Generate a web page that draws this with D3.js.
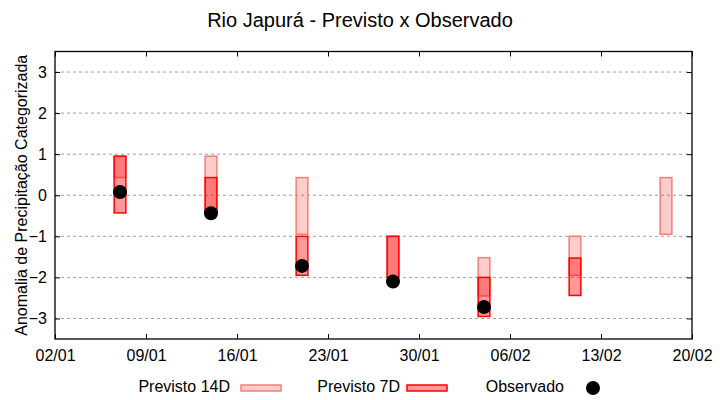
<!DOCTYPE html>
<html>
<head>
<meta charset="utf-8">
<script src="https://cdn.jsdelivr.net/npm/d3@7"></script>
<style>
	body { margin: 0; background: white; }
	text { font-family: "Liberation Sans", Arial, sans-serif; fill: #000; }
</style>
</head>
<body>
<script>
// datas de cada semana prevista
var dates = ['07/01', '14/01', '21/01', '28/01', '04/02', '11/02', '18/02']
var prev14Low  = [0.43, -0.45, -0.95, -2.0, -2.45, -1.95, -0.95]
var prev14High = [0.95, 0.95, 0.43, -1.0, -1.52, -1.0, 0.43]
var prev7Low   = [-0.43, -0.45, -1.95, -2.0, -2.95, -2.44, null]
var prev7High  = [0.95, 0.43, -1.0, -1.0, -2.0, -1.53, null]
var observado  = [0.08, -0.44, -1.72, -2.1, -2.72, null, null]

var xTicks = ['02/01', '09/01', '16/01', '23/01', '30/01', '06/02', '13/02', '20/02']
var yTicks = [-3, -2, -1, 0, 1, 2, 3]

var parse = s => new Date(Date.UTC(2024, +s.slice(3) - 1, +s.slice(0, 2)))
var DAY = 864e5

var width = 720,
	height = 400

var margin = {top: 51.5, right: 28, bottom: 61, left: 55}

var svg = d3.select('body').append('svg')
	.attr('width', width)
	.attr('height', height)

var x = d3.scaleUtc()
	.domain([parse('02/01'), parse('20/02')])
	.range([margin.left, width - margin.right])

var y = d3.scaleLinear()
	.domain([-3.5, 3.5])
	.range([height - margin.bottom, margin.top])

// grid
svg.append('g')
	.selectAll('line')
	.data(yTicks)
	.enter()
	.append('line')
		.attr('x1', margin.left)
		.attr('x2', width - margin.right)
		.attr('y1', d => y(d))
		.attr('y2', d => y(d))
		.attr('stroke', '#a0a0a0')
		.attr('stroke-width', 1)
		.attr('stroke-dasharray', '3,3')

// eixos (ticks para dentro, espelhados)
var tickFmt = d3.utcFormat('%d/%m')
var xTickVals = xTicks.map(parse)

svg.append('g')
	.attr('transform', 'translate(0,' + (height - margin.bottom) + ')')
	.call(d3.axisBottom(x).tickValues(xTickVals).tickFormat(tickFmt).tickSizeInner(-5).tickSizeOuter(0).tickPadding(11))
	.call(g => g.select('.domain').remove())
	.call(g => g.selectAll('text').style('font-size', '16px'))

svg.append('g')
	.attr('transform', 'translate(0,' + margin.top + ')')
	.call(d3.axisTop(x).tickValues(xTickVals).tickFormat('').tickSizeInner(-5).tickSizeOuter(0))
	.call(g => g.select('.domain').remove())

svg.append('g')
	.attr('transform', 'translate(' + margin.left + ',0)')
	.call(d3.axisLeft(y).tickValues(yTicks).tickFormat(d3.format('d')).tickSizeInner(-5).tickSizeOuter(0).tickPadding(8))
	.call(g => g.select('.domain').remove())
	.call(g => g.selectAll('text').style('font-size', '16px'))

svg.append('g')
	.attr('transform', 'translate(' + (width - margin.right) + ',0)')
	.call(d3.axisRight(y).tickValues(yTicks).tickFormat('').tickSizeInner(-5).tickSizeOuter(0))
	.call(g => g.select('.domain').remove())

svg.selectAll('.tick line').attr('stroke', '#000')

svg.append('rect')
	.attr('x', margin.left)
	.attr('y', margin.top)
	.attr('width', width - margin.left - margin.right)
	.attr('height', height - margin.top - margin.bottom)
	.attr('fill', 'none')
	.attr('stroke', '#000')
	.attr('stroke-width', 1.3)

// caixas
var boxW = x(new Date(DAY * 0.9)) - x(new Date(0))

var c14 = {fill: 'rgba(255,0,0,0.2)', stroke: '#f08078'}
var c7 = {fill: 'rgba(255,0,0,0.4)', stroke: '#ff0000'}

function boxes(low, high, c) {
	var rows = dates.map((d, i) => ({date: parse(d), lo: low[i], hi: high[i]}))
		.filter(d => d.lo != null)
	svg.append('g')
		.selectAll('rect')
		.data(rows)
		.enter()
		.append('rect')
			.attr('x', d => x(d.date) - boxW / 2)
			.attr('width', boxW)
			.attr('y', d => y(d.hi))
			.attr('height', d => y(d.lo) - y(d.hi))
			.attr('fill', c.fill)
			.attr('stroke', c.stroke)
			.attr('stroke-width', 1.5)
}

boxes(prev14Low, prev14High, c14)
boxes(prev7Low, prev7High, c7)

svg.append('g')
	.selectAll('circle')
	.data(dates.map((d, i) => ({date: parse(d), v: observado[i]})).filter(d => d.v != null))
	.enter()
	.append('circle')
		.attr('cx', d => x(d.date))
		.attr('cy', d => y(d.v))
		.attr('r', 7)
		.attr('fill', '#000')

// titulo e rotulo
svg.append('text')
	.attr('x', 360)
	.attr('y', 27)
	.attr('text-anchor', 'middle')
	.style('font-size', '20px')
	.text('Rio Japurá - Previsto x Observado')

svg.append('text')
	.attr('transform', 'translate(27,' + ((margin.top + height - margin.bottom) / 2) + ') rotate(-90)')
	.attr('text-anchor', 'middle')
	.style('font-size', '16px')
	.text('Anomalia de Precipitação Categorizada')

// legenda
var legend = [
	{label: 'Previsto 14D', tx: 230, sx: 241, c: c14},
	{label: 'Previsto 7D', tx: 400, sx: 407, c: c7}
]

legend.forEach(function (d) {
	svg.append('text')
		.attr('x', d.tx)
		.attr('y', 392)
		.attr('text-anchor', 'end')
		.style('font-size', '16px')
		.text(d.label)
	svg.append('rect')
		.attr('x', d.sx)
		.attr('y', 385)
		.attr('width', 40)
		.attr('height', 6)
		.attr('fill', d.c.fill)
		.attr('stroke', d.c.stroke)
		.attr('stroke-width', 1.5)
})

svg.append('text')
	.attr('x', 564)
	.attr('y', 392)
	.attr('text-anchor', 'end')
	.style('font-size', '16px')
	.text('Observado')

svg.append('circle')
	.attr('cx', 593)
	.attr('cy', 388)
	.attr('r', 7)
	.attr('fill', '#000')
</script>
</body>
</html>
